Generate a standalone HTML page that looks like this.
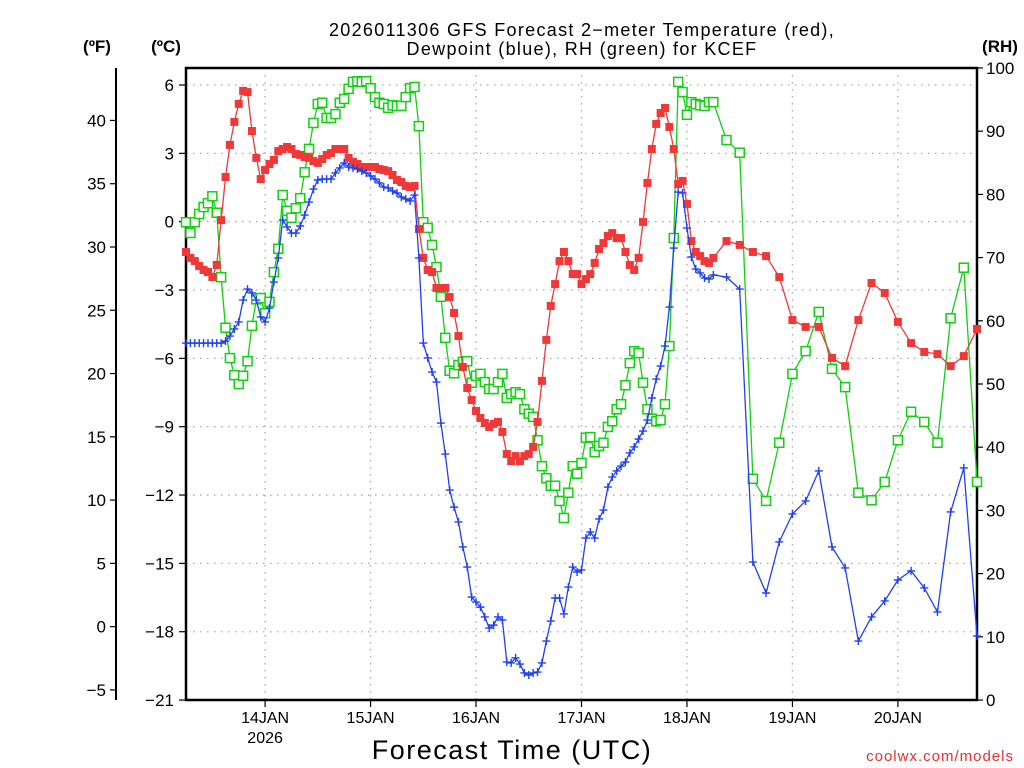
<!DOCTYPE html>
<html><head><meta charset="utf-8"><style>
html,body{margin:0;padding:0;background:#fff;}
svg{display:block;font-family:"Liberation Sans",sans-serif;}
</style></head><body>
<svg id="c" width="1024" height="768" viewBox="0 0 1024 768">
<text x="582" y="36" text-anchor="middle" font-size="18" letter-spacing="1.3" fill="#000">2026011306 GFS Forecast 2−meter Temperature (red),</text>
<text x="582" y="55" text-anchor="middle" font-size="18" letter-spacing="1.3" fill="#000">Dewpoint (blue), RH (green) for KCEF</text>
<text x="97" y="52" text-anchor="middle" font-size="17" font-weight="bold">(ºF)</text>
<text x="166" y="52" text-anchor="middle" font-size="17" font-weight="bold">(ºC)</text>
<text x="1000" y="52" text-anchor="middle" font-size="17" font-weight="bold">(RH)</text>
<text x="512" y="759" text-anchor="middle" font-size="27" letter-spacing="1.5">Forecast Time (UTC)</text>
<text x="1014" y="761" text-anchor="end" font-size="15" fill="#e83030" letter-spacing="1">coolwx.com/models</text>
<g id="grid"></g>
<g id="axes"></g>
<g id="series"></g>
</svg>
<script>
// hours since 13JAN 00Z
const hourlyStart = 6, hourlyEnd = 126, threeHourStart = 129, threeHourEnd = 186;
const tempHourly = [-1.33,-1.59,-1.73,-1.95,-2.12,-2.21,-2.43,-1.9,0.07,1.96,
3.37,4.38,5.17,5.74,5.69,3.98,2.80,1.87,2.27,2.53,
2.71,3.10,3.19,3.28,3.19,2.97,2.93,2.84,2.80,2.66,
2.58,2.75,2.93,3.01,3.19,3.19,3.19,2.80,2.62,2.53,
2.40,2.40,2.40,2.40,2.31,2.27,2.22,2.05,1.83,1.74,
1.57,1.52,1.57,-0.32,-1.59,-2.12,-2.21,-2.91,-2.91,-2.91,
-3.31,-4.01,-5.02,-6.38,-7.30,-7.83,-8.31,-8.62,-8.84,-9.01,
-8.88,-8.79,-9.23,-10.20,-10.51,-10.29,-10.51,-10.29,-10.20,-9.89,
-8.79,-6.99,-5.19,-3.70,-2.74,-1.73,-1.33,-1.73,-2.30,-2.30,
-2.74,-2.52,-2.30,-1.81,-1.20,-0.94,-0.63,-0.50,-0.72,-0.72,
-1.33,-1.90,-2.12,-1.59,-0.01,1.70,3.19,4.29,4.77,4.99,
4.16,3.19,1.65,1.79,0.78,-0.85,-1.33,-1.51,-1.73,-1.81,
-1.59];
const temp3h = [-0.85,-1.02,-1.33,-1.51,-2.43,-4.32,-4.62,-4.62,-5.98,-6.34,-4.32,-2.69,-3.13,-4.40,-5.33,-5.72,-5.81,-6.34,-5.90,-4.71];
const dewHourly = [-5.33,-5.33,-5.33,-5.33,-5.33,-5.33,-5.33,-5.33,-5.33,
-5.24,-5.02,-4.71,-4.40,-3.44,-2.96,-3.13,-3.44,-4.18,-4.40,
-3.79,-2.65,-1.59,0.07,-0.23,-0.50,-0.50,-0.19,0.29,0.86,
1.43,1.83,1.87,1.87,1.87,2.14,2.36,2.58,2.40,2.36,
2.31,2.22,2.14,2.01,1.87,1.70,1.52,1.48,1.35,1.26,
1.08,1.00,0.91,1.17,-1.59,-5.33,-5.98,-6.60,-7.04,-8.84,
-10.20,-11.78,-12.53,-13.18,-14.28,-15.16,-16.48,-16.70,-16.92,-17.35,
-17.84,-17.71,-17.35,-17.49,-19.33,-19.37,-19.15,-19.42,-19.81,-19.90,
-19.81,-19.77,-19.37,-18.41,-17.53,-16.52,-16.52,-17.22,-16.04,-15.16,
-15.38,-15.29,-13.89,-13.62,-13.89,-13.05,-12.66,-11.65,-11.21,-10.94,
-10.73,-10.55,-10.15,-9.89,-9.54,-9.19,-8.71,-7.74,-6.91,-6.34,
-5.46,-3.75,-1.16,1.30,1.26,-0.28,-1.55,-2.08,-2.25,-2.47,
-2.52,-2.34];
const dew3h = [-2.43,-2.96,-14.94,-16.30,-14.06,-12.83,-12.26,-10.94,-14.28,-15.20,-18.41,-17.35,-16.65,-15.73,-15.33,-16.08,-17.13,-12.74,-10.81,-18.19];
const rhHourly = [75.6,73.9,75.6,76.9,78.0,78.6,79.7,77.1,66.9,58.9,
54.1,51.4,50.0,51.3,53.6,59.2,63.4,63.6,61.2,63.0,
67.7,71.4,79.9,77.4,76.3,77.8,79.4,83.5,87.2,91.3,
94.3,94.5,92.1,92.1,92.7,94.5,95.1,96.7,97.8,97.9,
97.8,97.9,96.8,95.4,94.5,94.3,93.7,94.1,94.0,94.0,
95.4,96.8,97.0,90.8,75.6,74.7,72.0,68.5,63.8,57.3,
52.1,51.7,53.0,53.5,53.6,50.2,51.3,51.6,50.3,49.2,
49.2,50.3,51.6,47.8,48.4,48.7,48.4,46.0,45.3,44.8,
41.1,37.0,35.1,33.9,33.9,31.5,28.8,32.8,37.0,35.8,
37.5,41.5,41.6,39.2,40.2,40.7,43.2,44.1,46.0,46.8,
49.8,53.3,55.2,54.9,50.2,46.0,44.5,44.1,44.3,46.8,
56.0,73.1,97.8,96.2,92.6,94.6,94.3,94.1,94.0,94.6,
94.6];
const rh3h = [88.6,86.6,35.0,31.5,40.7,51.6,55.2,61.4,52.4,49.5,32.8,31.6,34.5,41.1,45.6,44.0,40.7,60.4,68.4,34.5];
const celsiusTicks = [6,3,0,-3,-6,-9,-12,-15,-18,-21];
const fahrenheitTicks = [40,35,30,25,20,15,10,5,0,-5];
const rhTicks = [0,10,20,30,40,50,60,70,80,90,100];
const dayLabels = ["14JAN","15JAN","16JAN","17JAN","18JAN","19JAN","20JAN"];
const dayHours = [24,48,72,96,120,144,168];

const NS="http://www.w3.org/2000/svg";
const L=186,R=977,T=68,B=700;
const xS=h=>L+(h-6)*(R-L)/(186-6);
const yC=c=>85+(6-c)*22.78;
const yRH=r=>B-r*(B-T)/100;
function mk(tag,attrs,parent){const e=document.createElementNS(NS,tag);for(const k in attrs)e.setAttribute(k,attrs[k]);parent.appendChild(e);return e;}
const grid=document.getElementById('grid'),axes=document.getElementById('axes'),ser=document.getElementById('series');

celsiusTicks.forEach(c=>{
  const y=yC(c);
  if(c>-21){const g=mk('line',{x1:L,x2:R,y1:y,y2:y,stroke:'#aaa','stroke-width':1.3,'stroke-dasharray':'1.5,5.5'},grid);
  
  }
  const t=mk('line',{x1:L-7,x2:L,y1:y,y2:y,stroke:'#000','stroke-width':1.2},axes);
  
  
  const tx=mk('text',{x:L-12,y:y+6,'text-anchor':'end','font-size':17},axes);
  tx.textContent=(c<0?'−':'')+Math.abs(c);
  
  
});
fahrenheitTicks.forEach(f=>{
  const y=yC((f-32)*5/9);
  const t=mk('line',{x1:110,x2:116,y1:y,y2:y,stroke:'#000','stroke-width':1.2},axes);
  
  
  const tx=mk('text',{x:106,y:y+6,'text-anchor':'end','font-size':17},axes);
  tx.textContent=(f<0?'−':'')+Math.abs(f);
  
  
});
rhTicks.forEach(r=>{
  const y=yRH(r);
  const t=mk('line',{x1:R,x2:R+6,y1:y,y2:y,stroke:'#000','stroke-width':1.2},axes);
  
  
  const tx=mk('text',{x:986,y:y+6,'text-anchor':'start','font-size':17},axes);
  tx.textContent=r;
  
  
});
dayHours.forEach((h,i)=>{
  const x=xS(h);
  const g=mk('line',{x1:x,x2:x,y1:T,y2:B,stroke:'#aaa','stroke-width':1.3,'stroke-dasharray':'1.5,5.5'},grid);
  
  
  const t=mk('line',{x1:x,x2:x,y1:B,y2:B+7,stroke:'#000','stroke-width':1.2},axes);
  
  
  const tx=mk('text',{x:x,y:723,'text-anchor':'middle','font-size':16},axes);
  tx.textContent=dayLabels[i];
  
  
});
const yr=mk('text',{x:xS(24),y:743,'text-anchor':'middle','font-size':16},axes);
yr.textContent='2026';


const fl=mk('line',{x1:116,x2:116,y1:68,y2:700,stroke:'#000','stroke-width':2},axes);


const frame=mk('path',{d:`M${L},${T}H${R}V${B}H${L}Z`,fill:'none',stroke:'#000','stroke-width':2.5},axes);



function hoursFor(h1,h3){const a=[];for(let i=0;i<h1.length;i++)a.push(hourlyStart+i);for(let i=0;i<h3.length;i++)a.push(threeHourStart+3*i);return a;}
function draw(h1,h3,yf,color,kind,name){
  const vals=h1.concat(h3), hrs=hoursFor(h1,h3);
  const pts=vals.map((v,i)=>[xS(hrs[i]),yf(v)]);
  const g=mk('g',{},ser);
  
  
  const pl=mk('polyline',{points:pts.map(p=>p.join(',')).join(' '),fill:'none',stroke:color,'stroke-width':1.3},g);
  
  
  pts.forEach(p=>{
    let m;
    if(kind==='fill'){m=mk('rect',{x:p[0]-4,y:p[1]-4,width:8,height:8,fill:color},g);}
    else if(kind==='open'){m=mk('rect',{x:p[0]-4.5,y:p[1]-4.5,width:9,height:9,fill:'#fff',stroke:color,'stroke-width':1.5},g);}
    else {m=mk('path',{d:`M${p[0]-4},${p[1]}h8M${p[0]},${p[1]-4}v8`,stroke:color,'stroke-width':1.4},g);}
    
    
  });
}
draw(rhHourly,rh3h,yRH,'#10d010','open','rh');
draw(tempHourly,temp3h,yC,'#f03838','fill','temperature');
draw(dewHourly,dew3h,yC,'#2040f0','plus','dewpoint');
</script>
</body></html>
